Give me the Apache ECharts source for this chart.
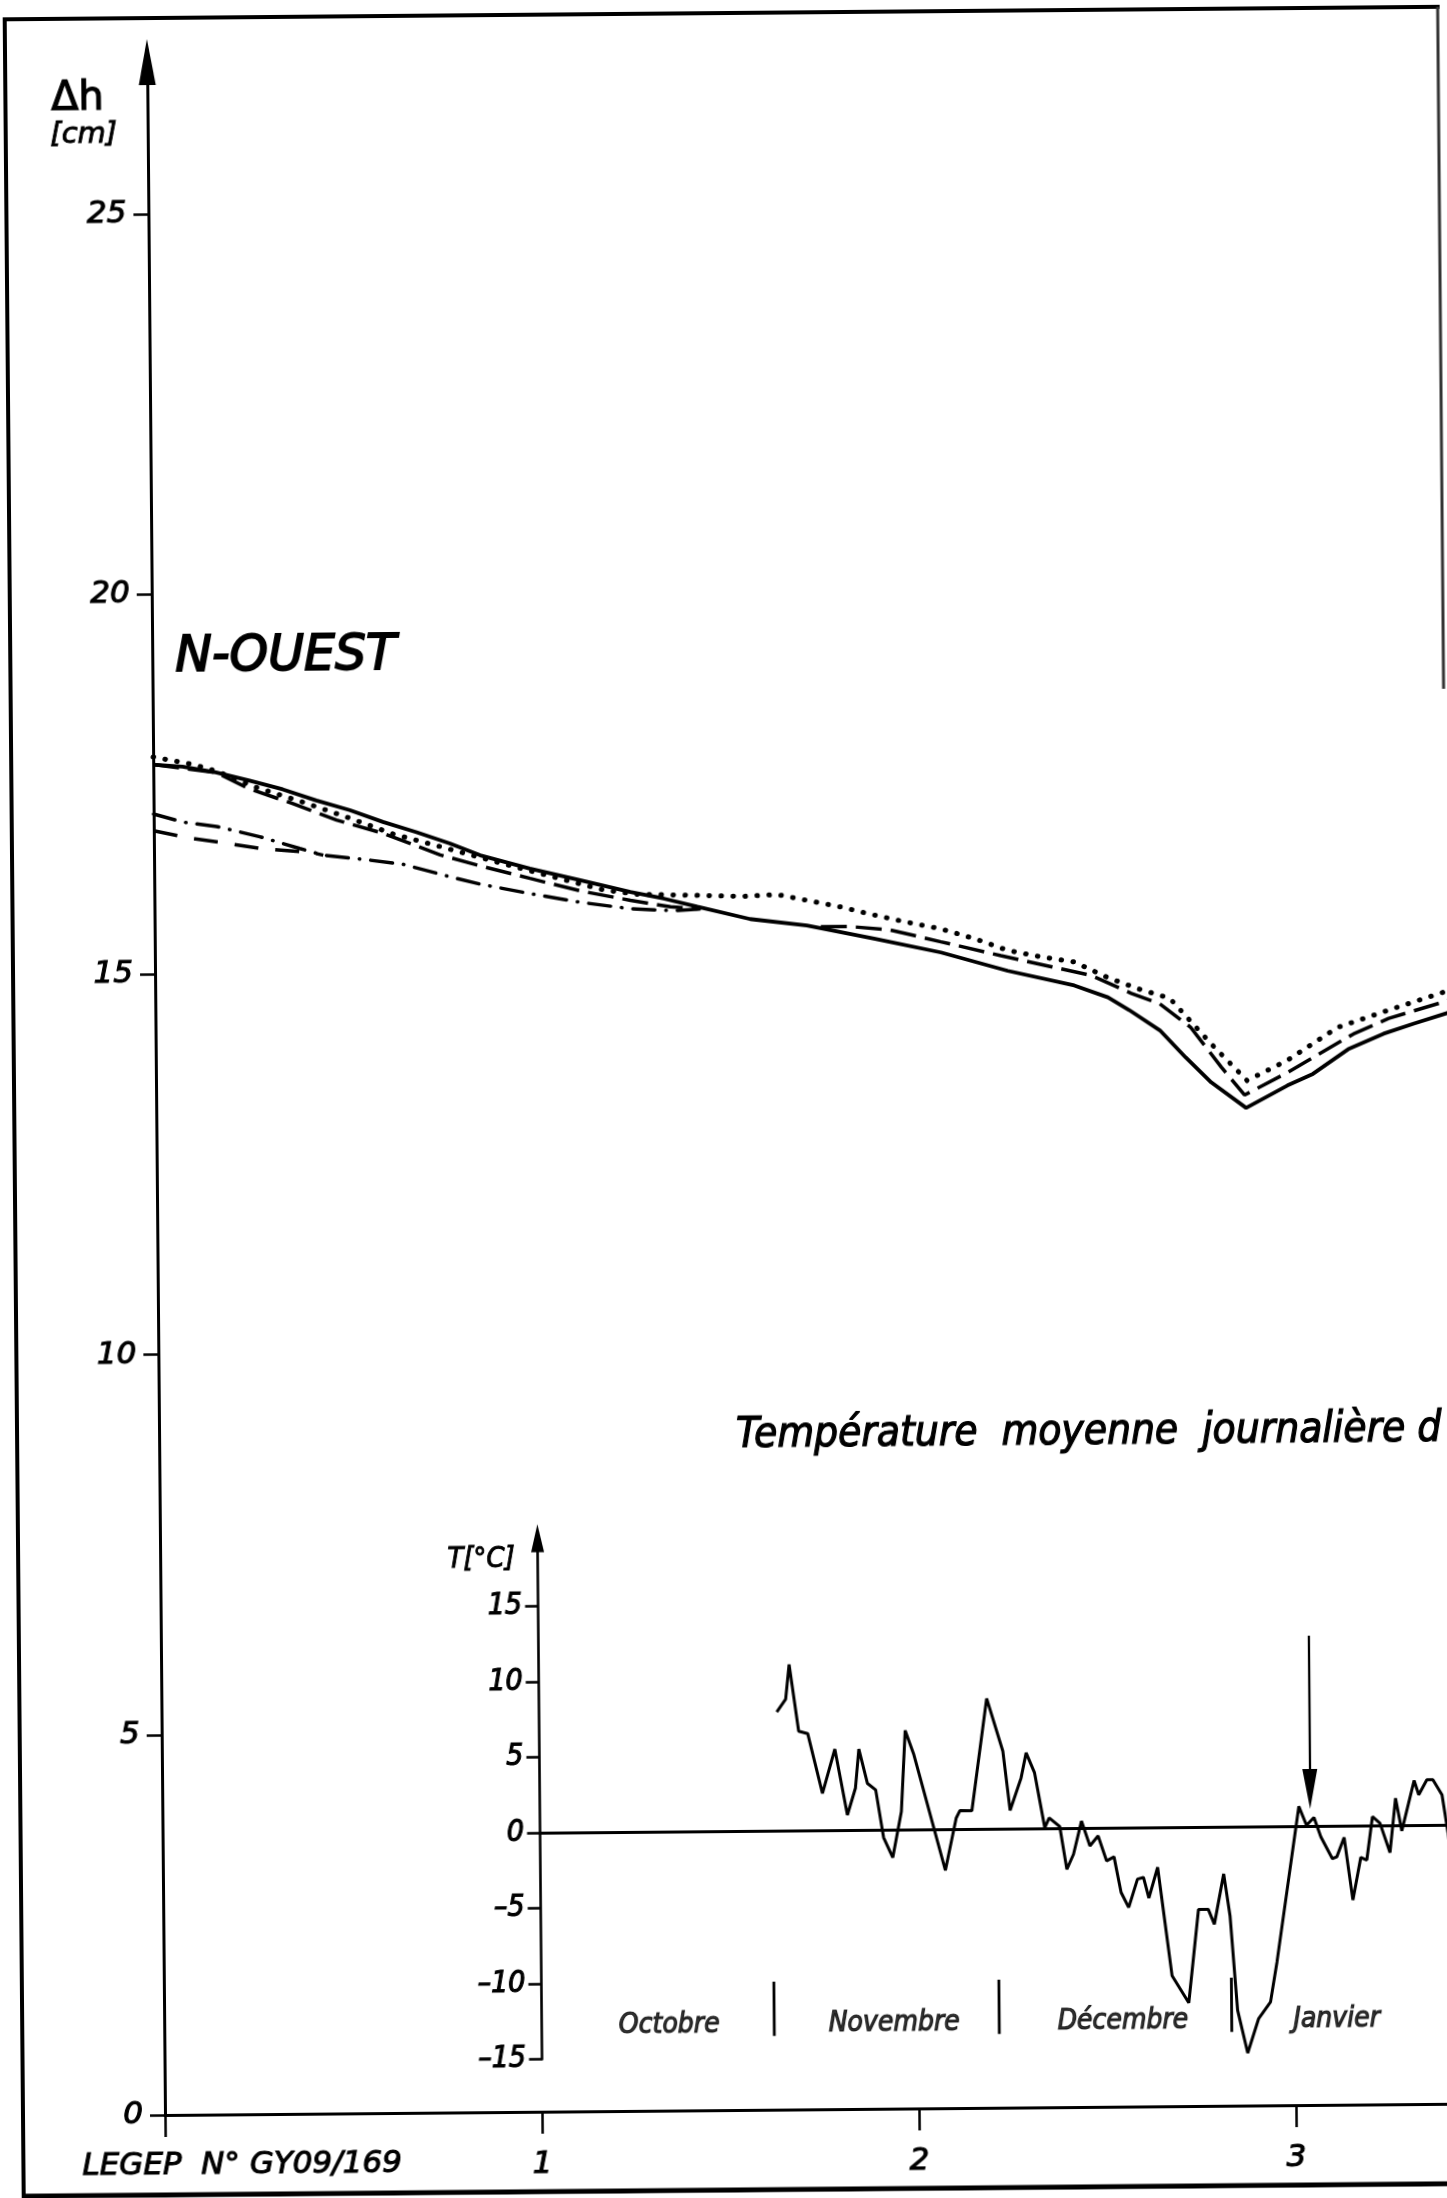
<!DOCTYPE html>
<html><head><meta charset="utf-8">
<script src="https://cdn.jsdelivr.net/npm/echarts@6/dist/echarts.min.js"></script>
<style>
html,body{margin:0;padding:0;width:1447px;height:2198px;overflow:hidden;background:#fff;}
#chart{position:absolute;left:0;top:0;width:1500px;height:2198px;transform:rotate(-0.5deg);transform-origin:165px 2115px;}
</style></head><body><div id="chart"></div>
<script>
// ---- axis ticks / labels ----
const xTickValues = [0, 1, 2, 3];
const xLabelValues = [1, 2, 3];
const yTickValues = [0, 5, 10, 15, 20, 25];
const tTickValues = [-15, -10, -5, 0, 5, 10, 15];

// ---- main chart (Δh, cm) ----
const solidX = [0, 0.078, 0.166, 0.255, 0.343, 0.432, 0.52, 0.608, 0.697, 0.785, 0.865, 0.997, 1.13, 1.263, 1.351, 1.44, 1.58, 1.73, 1.908, 2.085, 2.262, 2.438, 2.527, 2.583, 2.664, 2.732, 2.799, 2.891, 3.001, 3.069, 3.163, 3.257, 3.338, 3.43];
const solidY = [17.76, 17.73, 17.65, 17.54, 17.42, 17.27, 17.14, 16.98, 16.84, 16.69, 16.53, 16.35, 16.19, 16.03, 15.94, 15.83, 15.66, 15.57, 15.39, 15.2, 14.95, 14.75, 14.59, 14.42, 14.15, 13.79, 13.46, 13.12, 13.41, 13.56, 13.88, 14.08, 14.21, 14.35];

const dottedX = [0, 0.104, 0.166, 0.272, 0.396, 0.511, 0.635, 0.759, 0.909, 1.042, 1.192, 1.28, 1.355, 1.563, 1.652, 1.731, 1.82, 1.908, 1.997, 2.085, 2.173, 2.262, 2.35, 2.438, 2.527, 2.607, 2.691, 2.799, 2.894, 3.001, 3.136, 3.271, 3.43];
const dottedY = [17.86, 17.76, 17.67, 17.45, 17.25, 17.05, 16.82, 16.65, 16.44, 16.26, 16.06, 16.0, 15.99, 15.96, 15.98, 15.9, 15.81, 15.7, 15.6, 15.51, 15.38, 15.22, 15.13, 15.06, 14.85, 14.7, 14.57, 13.97, 13.48, 13.74, 14.17, 14.39, 14.64];

const dashX = [0, 0.166, 0.255, 0.37, 0.485, 0.608, 0.759, 0.865, 0.997, 1.13, 1.263, 1.369, 1.44, 1.6, 1.767, 1.846, 1.952, 2.085, 2.244, 2.377, 2.483, 2.589, 2.664, 2.745, 2.826, 2.887, 3.001, 3.177, 3.271, 3.43];
const dashY = [17.76, 17.65, 17.43, 17.23, 17.01, 16.83, 16.54, 16.39, 16.22, 16.05, 15.92, 15.83, 15.8, null, 15.55, 15.55, 15.5, 15.34, 15.15, 15.0, 14.88, 14.64, 14.5, 14.19, 13.66, 13.29, 13.58, 14.08, 14.28, 14.51];

const dashDotX = [0, 0.078, 0.166, 0.281, 0.387, 0.449, 0.555, 0.661, 0.785, 0.865, 0.997, 1.13, 1.263, 1.377, 1.457];
const dashDotY = [17.11, 17.0, 16.94, 16.8, 16.64, 16.55, 16.49, 16.42, 16.25, 16.15, 16.02, 15.9, 15.81, 15.78, 15.8];

const shortDashX = [0, 0.095, 0.175, 0.29, 0.414, 0.449];
const shortDashY = [16.89, 16.79, 16.73, 16.64, 16.59, 16.55];

// ---- inset: daily mean temperature (day counted from 1 October) ----
const tempDay = [31.7, 32.9, 33.4, 34.6, 35.8, 37.7, 39.4, 41.0, 42.1, 42.6, 43.7, 44.8, 45.8, 47.0, 48.2, 48.8, 49.9, 54.0, 55.5, 56.0, 57.6, 59.7, 61.8, 62.7, 64.2, 64.9, 66.0, 67.3, 67.9, 69.3, 70.2, 71.1, 72.2, 73.3, 74.4, 75.5, 76.5, 77.4, 78.4, 79.6, 80.4, 81.1, 82.3, 84.1, 86.3, 87.7, 89.0, 89.8, 91.1, 91.9, 92.8, 94.1, 95.6, 97.2, 98.1, 101.2, 102.2, 103.2, 104.1, 105.6, 106.2, 107.2, 108.3, 109.4, 110.2, 111.0, 112.0, 113.3, 114.1, 114.9, 116.6, 117.2, 118.3, 119.1, 120.3, 121.5];
const tempC = [7.86, 8.7, 11.0, 6.57, 6.41, 2.44, 5.36, 0.99, 2.76, 5.36, 3.08, 2.64, -0.52, -1.85, 1.19, 6.56, 5.0, -2.73, 0.73, 1.22, 1.21, 8.63, 5.13, 1.2, 3.35, 5.01, 3.68, 0.04, 0.69, 0.1, -2.73, -1.74, 0.46, -1.19, -0.53, -2.19, -1.93, -4.29, -5.29, -3.42, -3.31, -4.68, -2.65, -9.83, -11.64, -5.46, -5.46, -6.45, -3.12, -5.91, -12.16, -15.0, -12.72, -11.63, -9.0, 1.3, 0.05, 0.56, -0.73, -2.17, -2.06, -0.78, -4.93, -2.11, -2.29, 0.58, 0.14, -1.81, 1.79, -0.38, 2.95, 2.0, 2.99, 2.99, 1.99, -2.0];

const months = ['Octobre', 'Novembre', 'Décembre', 'Janvier'];
const monthCenterDay = [17, 47, 77.5, 106];
const monthBoundaryDay = [31, 61, 92];
const arrowDay = 102.7;
const arrowFromC = 12.6;
const arrowToC = 2.45;

// ---- texts ----
const yTitle = 'Δh';
const yUnit = '[cm]';
const tUnit = 'T[°C]';
const panelName = 'N-OUEST';
const insetTitle = 'Température  moyenne  journalière d';
const refText = 'LEGEP  N° GY09/169';

// ---------------------------------------------------------------
const FONT = "'DejaVu Sans', sans-serif";
const FONT_C = "'DejaVu Sans Condensed', 'DejaVu Sans', sans-serif";
const INK = '#000';
const pair = (xs, ys) => xs.map((x, i) => [x, ys[i]]);
const SEP_TOP = -10.0, SEP_BOT = -13.6, LABEL_T = -12.8;

const sepData = [];
monthBoundaryDay.forEach(b => { sepData.push([b, SEP_TOP], [b, SEP_BOT], [b, null]); });

const lineBase = (data, style, z) => ({
  type: 'line', xAxisIndex: 0, yAxisIndex: 0, data, showSymbol: false, symbol: 'none',
  connectNulls: false, silent: true, z: z,
  lineStyle: Object.assign({ color: INK }, style)
});
const lbl = (size, fam, extra) => Object.assign({ color: INK, fontSize: size, fontStyle: 'italic', fontFamily: fam,
  textBorderColor: INK, textBorderWidth: 1.1 }, extra || {});
const txt = (x, y, text, font, align, valign, lw) => ({
  type: 'text', silent: true, x, y,
  style: { text, font, fill: INK, stroke: INK, lineWidth: lw, textAlign: align, textVerticalAlign: valign, align, verticalAlign: valign }
});

const chart = echarts.init(document.getElementById('chart'), null, { renderer: 'canvas' });
const option = {
  animation: false,
  backgroundColor: '#fff',
  grid: [
    { left: 165, right: 34.35, top: 62, bottom: 83 },
    { left: 542.5, right: 20, top: 1541.5, bottom: 135.5 }
  ],
  xAxis: [
    { gridIndex: 0, type: 'value', min: 0, max: 3.45,
      axisLine: { show: true, lineStyle: { color: INK, width: 3 } },
      axisTick: { show: true, customValues: xTickValues, length: 22, inside: false, lineStyle: { color: INK, width: 2.5 } },
      axisLabel: lbl(31, FONT, { show: true, customValues: xLabelValues, margin: 37 }),
      splitLine: { show: false } },
    { gridIndex: 1, type: 'value', min: 0, max: 125,
      axisLine: { show: true, onZero: true, lineStyle: { color: INK, width: 3 } },
      axisTick: { show: false }, axisLabel: { show: false }, splitLine: { show: false } }
  ],
  yAxis: [
    { gridIndex: 0, type: 'value', min: 0, max: 27,
      axisLine: { show: true, symbol: ['none', 'triangle'], symbolSize: [17, 46], lineStyle: { color: INK, width: 3 } },
      axisTick: { show: true, customValues: yTickValues, length: 15, lineStyle: { color: INK, width: 2.5 } },
      axisLabel: lbl(31, FONT, { show: true, customValues: yTickValues, margin: 22 }),
      splitLine: { show: false } },
    { gridIndex: 1, type: 'value', min: -15, max: 19.5,
      axisLine: { show: true, symbol: ['none', 'triangle'], symbolSize: [13, 28], lineStyle: { color: INK, width: 2.6 } },
      axisTick: { show: true, customValues: tTickValues, length: 13, lineStyle: { color: INK, width: 2.6 } },
      axisLabel: lbl(30, FONT_C, { show: true, customValues: tTickValues, margin: 16,
        formatter: v => (v < 0 ? '–' + (-v) : String(v)) }),
      splitLine: { show: false } }
  ],
  series: [
    lineBase(pair(shortDashX, shortDashY), { width: 3.5, type: [24, 17] }, 2),
    lineBase(pair(dashDotX, dashDotY), { width: 3.5, type: [22, 11, 0.5, 11], cap: 'round' }, 2),
    lineBase(pair(dashX, dashY), { width: 3.5, type: [26, 9] }, 3),
    lineBase(pair(dottedX, dottedY), { width: 5, type: [0.5, 11.5], cap: 'round' }, 3),
    lineBase(pair(solidX, solidY), { width: 3.8, type: 'solid' }, 4),
    { type: 'line', xAxisIndex: 1, yAxisIndex: 1, data: pair(tempDay, tempC), showSymbol: false, symbol: 'none', silent: true,
      lineStyle: { color: INK, width: 3 },
      markLine: { silent: true, animation: false, symbol: ['none', 'none'], label: { show: false },
        lineStyle: { color: INK, width: 2.3, type: 'solid' },
        data: [[ { coord: [arrowDay, arrowFromC], symbol: 'none' },
                 { coord: [arrowDay, arrowToC], symbol: 'triangle', symbolSize: [15, 40] } ]] } },
    { type: 'line', xAxisIndex: 1, yAxisIndex: 1, data: sepData, showSymbol: false, symbol: 'none', silent: true,
      clip: false, connectNulls: false, lineStyle: { color: INK, width: 2.8 } },
    { type: 'scatter', xAxisIndex: 1, yAxisIndex: 1, clip: false, silent: true, symbol: 'circle', symbolSize: 1,
      itemStyle: { color: 'rgba(0,0,0,0)' },
      data: months.map((m, i) => ({ name: m, value: [monthCenterDay[i], LABEL_T] })),
      label: lbl(28, FONT_C, { show: true, position: 'inside', formatter: '{b}' }) }
  ],
  graphic: [
    { type: 'line', silent: true, shape: { x1: 23, y1: 18, x2: 23, y2: 2195 }, style: { stroke: INK, lineWidth: 4 } },
    { type: 'line', silent: true, shape: { x1: 21, y1: 18, x2: 1458, y2: 18 }, style: { stroke: INK, lineWidth: 4 } },
    { type: 'line', silent: true, shape: { x1: 21, y1: 2195, x2: 1500, y2: 2195 }, style: { stroke: INK, lineWidth: 5 } },
    { type: 'line', silent: true, shape: { x1: 1456, y1: 18, x2: 1456, y2: 700 }, style: { stroke: '#333', lineWidth: 3 } },
    txt(95, 99, yTitle, "40px 'DejaVu Sans', sans-serif", 'center', 'middle', 1.2),
    txt(101, 134, yUnit, "italic 29px 'DejaVu Sans', sans-serif", 'center', 'middle', 0.9),
    txt(188, 658, panelName, "italic 49px 'DejaVu Sans', sans-serif", 'left', 'middle', 1.8),
    txt(742, 1462, insetTitle, "italic 42px " + FONT_C, 'left', 'bottom', 1.2),
    txt(486, 1562, tUnit, "italic 29px " + FONT_C, 'center', 'middle', 0.9),
    txt(82, 2166, refText, "italic 31px 'DejaVu Sans', sans-serif", 'left', 'middle', 1.1)
  ]
};
chart.setOption(option);
</script>
</body></html>
